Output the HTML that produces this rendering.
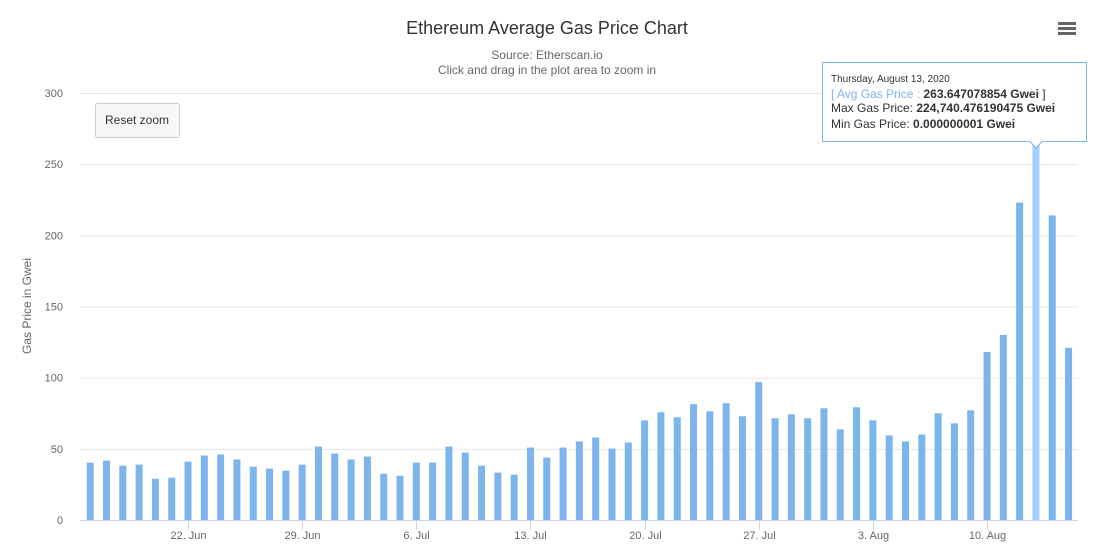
<!DOCTYPE html>
<html><head><meta charset="utf-8"><style>
body{margin:0;background:#fff;font-family:"Liberation Sans",sans-serif;}
svg text{font-family:"Liberation Sans",sans-serif;}
</style></head><body>
<svg id="c" width="1095" height="550">
<text x="547" y="34" text-anchor="middle" font-size="18" fill="#333">Ethereum Average Gas Price Chart</text>
<text x="547" y="59" text-anchor="middle" font-size="12" fill="#666">Source: Etherscan.io</text>
<text x="547" y="74" text-anchor="middle" font-size="12" fill="#666">Click and drag in the plot area to zoom in</text>
<g><rect x="1058" y="22" width="18" height="3" fill="#666"/><rect x="1058" y="27" width="18" height="3" fill="#666"/><rect x="1058" y="32" width="18" height="3" fill="#666"/></g>
<g id="grid"></g><g id="bars"></g><g id="axes"></g>
<text transform="translate(31,306) rotate(-90)" text-anchor="middle" font-size="12" fill="#666">Gas Price in Gwei</text>
<g><rect x="95.5" y="103.5" width="84" height="34" rx="2" fill="#f7f7f7" stroke="#ccc"/><text x="137" y="124" text-anchor="middle" font-size="12" fill="#333">Reset zoom</text></g>
<g>
<path d="M822.5 62.5 H1086.5 V141.5 H1042 L1036 148 L1030 141.5 H822.5 Z" fill="#fff" fill-opacity="0.95" stroke="#7cb5ec" stroke-width="1"/>
<text x="831" y="82" font-size="10" fill="#333">Thursday, August 13, 2020</text>
<text x="831" y="98" font-size="12" fill="#333"><tspan fill="#7cb5ec">[ Avg Gas Price : </tspan><tspan font-weight="bold">263.647078854 Gwei</tspan> ]</text>
<text x="831" y="112" font-size="12" fill="#333">Max Gas Price: <tspan font-weight="bold">224,740.476190475 Gwei</tspan></text>
<text x="831" y="128" font-size="12" fill="#333">Min Gas Price: <tspan font-weight="bold">0.000000001 Gwei</tspan></text>
</g>
</svg>
<script>
const values=[40.3,41.7,38.2,38.9,29,29.7,41,45.3,46,42.5,37.5,36.1,34.7,38.9,51.6,46.7,42.5,44.6,32.5,31.1,40.3,40.3,51.6,47.4,38.2,33.3,31.9,50.9,43.9,50.9,55.2,58,50.2,54.5,70,75.7,72.2,81.4,76.4,82.1,72.9,96.9,71.5,74.3,71.5,78.5,63.7,79.2,70,59.4,55.2,60.1,75,67.9,77.1,118,130,223,263.6,214,121];
const yTicks=[0,50,100,150,200,250,300];
const xLabels=["22. Jun","29. Jun","6. Jul","13. Jul","20. Jul","27. Jul","3. Aug","10. Aug"];
const xLabelIdx=[6,13,20,27,34,41,48,55];
const highlight=58;
const NS="http://www.w3.org/2000/svg";
const y=v=>520-v*427/300, x=i=>90.2+i*16.306;
function mk(t,a,p){const e=document.createElementNS(NS,t);for(const k in a)e.setAttribute(k,a[k]);document.getElementById(p).appendChild(e);return e;}
yTicks.forEach(v=>{
 if(v>0){const l=mk('line',{x1:80,x2:1078,y1:y(v)+.5,y2:y(v)+.5,stroke:'#e6e6e6'},'grid');
 
 }
 const t=mk('text',{x:63,y:y(v)+4,'text-anchor':'end','font-size':11,fill:'#666'},'axes');t.textContent=v;
 
 
});
values.forEach((v,i)=>{
 const r=mk('rect',{x:x(i)-3.5,y:y(v),width:7,height:520-y(v),fill:i===highlight?'#a3d1ff':'#7cb5ec'},'bars');
 
 
});
const ax=mk('line',{x1:80,x2:1078,y1:520.5,y2:520.5,stroke:'#ccd6eb'},'axes');


xLabels.forEach((s,k)=>{
 const px=Math.round(x(xLabelIdx[k]))+.5;
 mk('line',{x1:px,x2:px,y1:520,y2:530,stroke:'#ccd6eb'},'axes');
 const t=mk('text',{x:px,y:539,'text-anchor':'middle','font-size':11,fill:'#666'},'axes');t.textContent=s;
 
 
});
</script>
</body></html>
